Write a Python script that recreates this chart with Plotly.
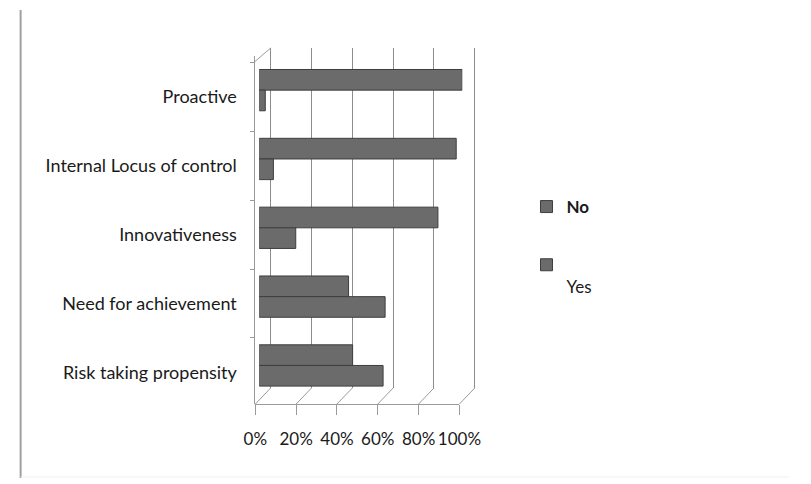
import plotly.graph_objects as go

categories = ["Proactive", "Internal Locus of control", "Innovativeness",
              "Need for achievement", "Risk taking propensity"]
no_values = [1.00, 0.97, 0.88, 0.44, 0.46]
yes_values = [0.03, 0.07, 0.18, 0.62, 0.61]
x_ticks = [0, 0.2, 0.4, 0.6, 0.8, 1.0]
x_ticklabels = ["0%", "20%", "40%", "60%", "80%", "100%"]

W, H = 811, 484
px = lambda v: v / W
py = lambda v: 1 - v / H

FONT = "Lato"
TXT = "#1a1a1a"
BAR = "#6b6b6b"
EDGE = "#3e3e3e"
AX = "#9a9a9a"

# 3D frame geometry (pixels)
FRONT_X0, FRONT_X1, FRONT_Y = 254, 467, 404
BACK_X0, BACK_X1, BACK_Y, BACK_TOP = 270, 483, 388, 48
EPS = 0.01

fig = go.Figure()

# back wall (grid) subplot
fig.add_trace(go.Scatter(x=[0], y=[0], mode="markers", marker=dict(opacity=0),
                         showlegend=False, hoverinfo="skip", xaxis="x", yaxis="y"))
# front axis (percent scale) carrier
fig.add_trace(go.Scatter(x=[0], y=[categories[0]], mode="markers",
                         marker=dict(opacity=0), showlegend=False,
                         hoverinfo="skip", xaxis="x3", yaxis="y2"))

fig.add_trace(go.Bar(name="<b>No</b>", y=categories, x=no_values, orientation="h",
                     width=0.3, offset=-0.4, legendgroup="no",
                     marker=dict(color=BAR, line=dict(color=EDGE, width=1)),
                     xaxis="x2", yaxis="y2"))
fig.add_trace(go.Bar(name=" <br> <br>Yes", y=categories, x=yes_values, orientation="h",
                     width=0.3, offset=-0.1, legendgroup="yes",
                     marker=dict(color=BAR, line=dict(color=EDGE, width=1)),
                     xaxis="x2", yaxis="y2"))

span = BACK_X1 - BACK_X0
shapes = [
    dict(type="line", xref="paper", yref="paper", x0=px(9), x1=px(9),
         y0=py(10), y1=py(478), line=dict(color="#a0a0a0", width=2)),
    dict(type="line", xref="paper", yref="paper", x0=px(9), x1=px(811),
         y0=py(477), y1=py(477), line=dict(color="#f0f0f0", width=1)),
    # left wall top edge
    dict(type="line", xref="paper", yref="paper", x0=px(253), x1=px(BACK_X0),
         y0=py(62), y1=py(BACK_TOP), line=dict(color=AX, width=1)),
]
# floor perspective lines from each front tick to the back wall
for t in x_ticks:
    fx = FRONT_X0 + t * (FRONT_X1 - FRONT_X0)
    bx = BACK_X0 + t * span
    shapes.append(dict(type="line", xref="paper", yref="paper",
                       x0=px(fx), x1=px(bx), y0=py(FRONT_Y), y1=py(BACK_Y),
                       line=dict(color=AX, width=1)))

fig.update_layout(
    width=W, height=H,
    margin=dict(l=0, r=0, t=0, b=0),
    paper_bgcolor="white", plot_bgcolor="rgba(0,0,0,0)",
    barmode="overlay",
    font=dict(family=FONT, size=18, color=TXT),
    xaxis=dict(domain=[px(BACK_X0 - EPS * span), px(BACK_X1 + EPS * span)],
               range=[-EPS, 1 + EPS], tickvals=x_ticks,
               showgrid=True, gridcolor="#8c8c8c", gridwidth=1,
               showticklabels=False, zeroline=False, showline=False, anchor="y"),
    yaxis=dict(domain=[py(BACK_Y), py(BACK_TOP)], range=[0, 1], visible=False,
               anchor="x"),
    xaxis2=dict(domain=[px(258), px(470)], range=[0, 1], visible=False,
                anchor="y2"),
    xaxis3=dict(domain=[px(FRONT_X0), px(FRONT_X1)], range=[0, 1],
                tickvals=x_ticks, ticktext=x_ticklabels, ticks="outside",
                ticklen=10, tickcolor=AX, showline=True, linecolor=AX,
                showgrid=False, zeroline=False, anchor="y2",
                ticklabelstandoff=10,
                tickfont=dict(family=FONT, size=17, color=TXT)),
    yaxis2=dict(domain=[py(FRONT_Y), py(56)], range=[4.46, -0.596], type="category",
                showgrid=False, showline=True, linecolor=AX,
                ticks="outside", ticklen=4, tickcolor=AX,
                tickson="boundaries", anchor="free", position=px(253),
                ticklabelstandoff=14,
                tickfont=dict(family=FONT, size=18, color=TXT)),
    legend=dict(x=px(537), y=py(189), xanchor="left", yanchor="top",
                bgcolor="rgba(0,0,0,0)", tracegroupgap=11,
                font=dict(family=FONT, size=17, color=TXT),
                itemwidth=30),
    shapes=shapes,
)

fig.write_html("out.html")
